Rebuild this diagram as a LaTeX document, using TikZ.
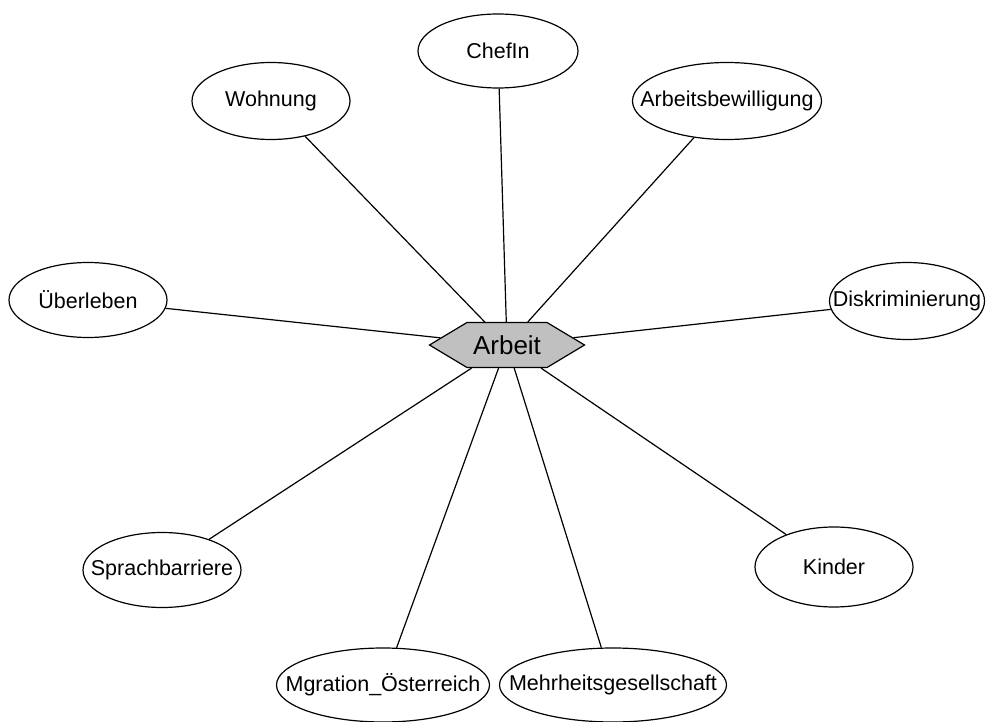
\documentclass[tikz,border=0pt]{standalone}
\usepackage{fontspec}
\setmainfont{Liberation Sans}
\usetikzlibrary{shapes.geometric,shapes.symbols}

\definecolor{coreGray}{HTML}{C0C0C0}
% labels take no width, so each ellipse keeps its own size and long words may overflow it
\newcommand{\tlabel}[1]{\makebox[0pt][c]{#1}}

\tikzset{
  topic/.style={draw=black, line width=1.2pt, ellipse, inner sep=0pt,
    minimum width=158pt, minimum height=77pt, font=\fontsize{21.5}{23}\selectfont},
  core/.style={draw=black, line width=1.2pt, fill=coreGray, signal,
    signal to=east and west, signal pointer angle=62, inner sep=0pt,
    minimum width=155pt, minimum height=45pt, font=\fontsize{26}{28}\selectfont},
  link/.style={draw=black, line width=1.2pt}
}

\begin{document}
\begin{tikzpicture}[x=1pt, y=-1pt]
  \useasboundingbox (0,0) rectangle (986,722);

  % central concept
  \node[core] (arbeit) at (507,345) {Arbeit};

  % surrounding concepts
  \node[topic, minimum height=74pt, minimum width=160pt] (chef) at (498,51) {\tlabel{ChefIn}};
  \node[topic] (wohnung) at (271,101) {\tlabel{Wohnung}};
  \node[topic, minimum width=189pt] (bewilligung) at (727,101) {\tlabel{Arbeitsbewilligung}};
  \node[topic, minimum height=75pt] (ueberleben) at (88,300) {\tlabel{Überleben}};
  \node[topic, minimum width=155pt] (diskr) at (907,301) {\tlabel{Diskriminierung}};
  \node[topic, minimum height=75pt] (sprache) at (162,570) {\tlabel{Sprachbarriere}};
  \node[topic, minimum height=80pt] (kinder) at (834,567) {\tlabel{Kinder}};
  \node[topic, minimum width=213pt, minimum height=74pt] (migration) at (383,685) {\tlabel{Mgration\_Österreich}};
  \node[topic, minimum width=227pt, minimum height=74pt] (mehrheit) at (613,685) {\tlabel{Mehrheitsgesellschaft}};

  % connectors
  \foreach \n in {chef,wohnung,bewilligung,ueberleben,diskr,sprache,kinder,migration,mehrheit}
    \draw[link] (arbeit) -- (\n);
\end{tikzpicture}
\end{document}
